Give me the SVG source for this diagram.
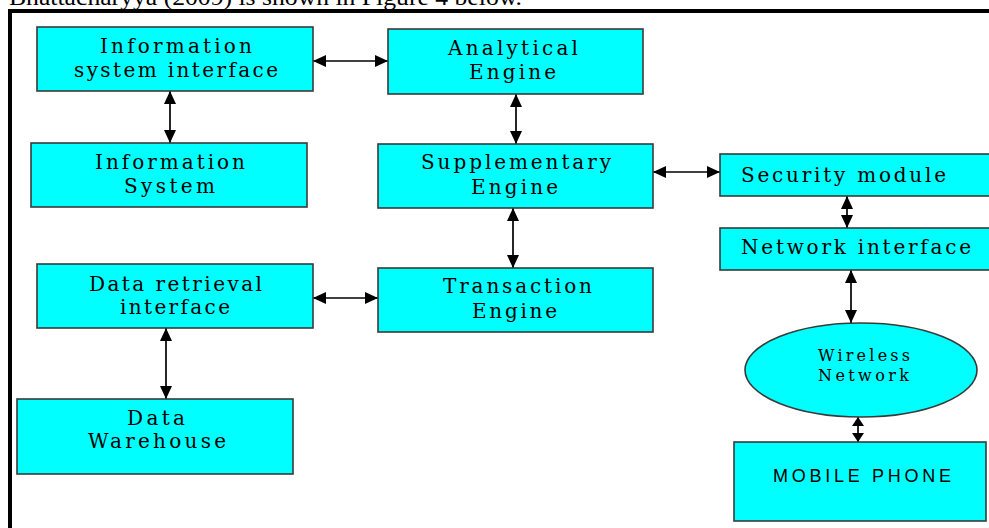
<svg xmlns="http://www.w3.org/2000/svg" width="989" height="528" viewBox="0 0 989 528">
  <style>
    .box { fill: #00ffff; stroke: #3a3a3a; stroke-width: 1.6; }
    .lbl { font-family: "DejaVu Serif", "Liberation Serif", serif; font-size: 20px; fill: #000; text-anchor: start; }
    .sm { font-size: 16px; }
    .sans { font-family: "Liberation Sans", Arial, sans-serif; font-size: 18px; }
    .link { stroke: #000; stroke-width: 1.7; fill: none; marker-start: url(#arr); marker-end: url(#arr); }
    .short { marker-start: url(#arrS); marker-end: url(#arrS); }
    .head { font-family: "Liberation Serif", "Times New Roman", serif; font-size: 24px; fill: #000; }
  </style>
  <defs>
    <marker id="arr" markerUnits="userSpaceOnUse" markerWidth="13" markerHeight="12" refX="13" refY="6" orient="auto-start-reverse">
      <path d="M0,0 L13,6 L0,12 Z" fill="#000"/>
    </marker>
    <marker id="arrS" markerUnits="userSpaceOnUse" markerWidth="9" markerHeight="12" refX="9" refY="6" orient="auto-start-reverse">
      <path d="M0,0 L9,6 L0,12 Z" fill="#000"/>
    </marker>
  </defs>
  <rect width="989" height="528" fill="#fff"/>

  <!-- caption line above the frame, running off the top edge -->
  <text class="head" x="9" y="5" textLength="513" lengthAdjust="spacingAndGlyphs">Bhattacharyya (2009) is shown in Figure 4 below.</text>

  <!-- frame -->
  <path d="M10,528 V11 H989" fill="none" stroke="#000" stroke-width="4"/>

  <g id="connectors">
    <line class="link" x1="313" y1="61" x2="388" y2="61"/>
    <line class="link" x1="170" y1="91" x2="170" y2="143"/>
    <line class="link" x1="516" y1="94" x2="516" y2="144"/>
    <line class="link" x1="513" y1="208" x2="513" y2="268"/>
    <line class="link" x1="653" y1="172" x2="720" y2="172"/>
    <line class="link" x1="847" y1="196" x2="847" y2="228"/>
    <line class="link" x1="851" y1="270" x2="851" y2="323"/>
    <line class="link short" x1="858" y1="417" x2="858" y2="442"/>
    <line class="link" x1="313" y1="298" x2="378" y2="298"/>
    <line class="link" x1="166" y1="328" x2="166" y2="399"/>
  </g>

  <g id="info-system-interface">
    <rect class="box" x="37" y="27" width="276" height="64"/>
    <text class="lbl" x="100" y="53" textLength="152" lengthAdjust="spacing">Information</text>
    <text class="lbl" x="74" y="77" textLength="204" lengthAdjust="spacing">system interface</text>
  </g>

  <g id="analytical-engine">
    <rect class="box" x="388" y="29" width="255" height="65"/>
    <text class="lbl" x="448" y="55" textLength="130" lengthAdjust="spacing">Analytical</text>
    <text class="lbl" x="469" y="79" textLength="87" lengthAdjust="spacing">Engine</text>
  </g>

  <g id="information-system">
    <rect class="box" x="31" y="143" width="276" height="64"/>
    <text class="lbl" x="95" y="169" textLength="150" lengthAdjust="spacing">Information</text>
    <text class="lbl" x="124" y="193" textLength="91" lengthAdjust="spacing">System</text>
  </g>

  <g id="supplementary-engine">
    <rect class="box" x="378" y="144" width="275" height="64"/>
    <text class="lbl" x="421" y="169" textLength="190" lengthAdjust="spacing">Supplementary</text>
    <text class="lbl" x="471" y="194" textLength="87" lengthAdjust="spacing">Engine</text>
  </g>

  <g id="security-module">
    <rect class="box" x="720" y="154" width="280" height="42"/>
    <text class="lbl" x="741" y="182" textLength="205" lengthAdjust="spacing">Security module</text>
  </g>

  <g id="network-interface">
    <rect class="box" x="720" y="228" width="280" height="42"/>
    <text class="lbl" x="741" y="254" textLength="230" lengthAdjust="spacing">Network interface</text>
  </g>

  <g id="data-retrieval-interface">
    <rect class="box" x="37" y="264" width="276" height="64"/>
    <text class="lbl" x="89" y="291" textLength="173" lengthAdjust="spacing">Data retrieval</text>
    <text class="lbl" x="120" y="314" textLength="110" lengthAdjust="spacing">interface</text>
  </g>

  <g id="transaction-engine">
    <rect class="box" x="378" y="268" width="275" height="64"/>
    <text class="lbl" x="443" y="293" textLength="149" lengthAdjust="spacing">Transaction</text>
    <text class="lbl" x="472" y="318" textLength="85" lengthAdjust="spacing">Engine</text>
  </g>

  <g id="data-warehouse">
    <rect class="box" x="17" y="399" width="276" height="75"/>
    <text class="lbl" x="127" y="425" textLength="58" lengthAdjust="spacing">Data</text>
    <text class="lbl" x="88" y="448" textLength="138" lengthAdjust="spacing">Warehouse</text>
  </g>

  <g id="wireless-network">
    <ellipse class="box" cx="861" cy="370" rx="116" ry="47"/>
    <text class="lbl sm" x="818" y="361" textLength="92" lengthAdjust="spacing">Wireless</text>
    <text class="lbl sm" x="818" y="381" textLength="91" lengthAdjust="spacing">Network</text>
  </g>

  <g id="mobile-phone">
    <rect class="box" x="734" y="442" width="252" height="79"/>
    <text class="lbl sans" x="773" y="482" textLength="178" lengthAdjust="spacing">MOBILE PHONE</text>
  </g>
</svg>
